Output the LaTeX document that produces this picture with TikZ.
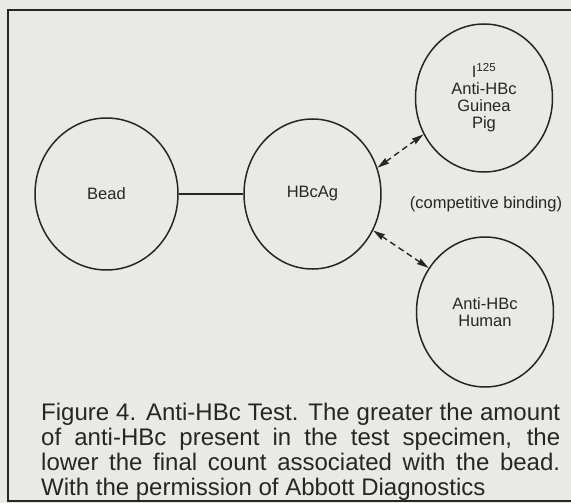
\documentclass[tikz,border=0pt]{standalone}
\usepackage{fontspec}
\setmainfont{Liberation Sans}
\usetikzlibrary{shapes.geometric,arrows.meta}
\definecolor{ink}{RGB}{38,38,38}
\definecolor{paper}{RGB}{233,233,230}
\begin{document}
\begin{tikzpicture}[x=1pt,y=-1pt,
    ring/.style={draw=ink,line width=1.5pt,ellipse,inner sep=0pt,minimum width=137pt,minimum height=150pt,align=center,text=ink,font=\fontsize{16.5}{17}\selectfont},
    bind/.style={draw=ink,line width=1.4pt,dash pattern=on 6pt off 4pt,<->,>={Stealth[length=12pt,width=6.5pt,inset=1pt]}},
  ]
    \fill[paper] (0,0) rectangle (571,503);
    \useasboundingbox (0,0) rectangle (571,503);
    \draw[ink,line width=2.2pt] (571,10) -- (8,10) -- (8,501) -- (571,501);
    \node[ring,minimum width=143pt,minimum height=152pt] (bead) at (106.5,194) {Bead};
    \node[ring] (hbcag) at (312.5,194) {HBcAg};
    \node[ring,minimum height=148pt] (guinea) at (484,98) {I\textsuperscript{125}\\Anti-HBc\\Guinea\\Pig};
    \node[ring] (human) at (485,312) {Anti-HBc\\Human};
    \draw[ink,line width=2pt] (bead) -- (hbcag);
    \draw[bind] (hbcag.22) -- (guinea.211);
    \draw[bind] (hbcag.-31) -- (human.142);
    \node[text=ink,font=\fontsize{16.5}{17}\selectfont] (compet) at (486,204) {(competitive binding)};
    \node[anchor=north west,inner sep=0pt,align=left,text=ink,font=\fontsize{24}{25.3}\selectfont] (caption) at (41,402.5) {%
      \makebox[519pt][s]{Figure 4. Anti-HBc Test. The greater the amount}\\
      \makebox[519pt][s]{of anti-HBc present in the test specimen, the}\\
      \makebox[519pt][s]{lower the final count associated with the bead.}\\
      With the permission of Abbott Diagnostics};
\end{tikzpicture}
\end{document}
